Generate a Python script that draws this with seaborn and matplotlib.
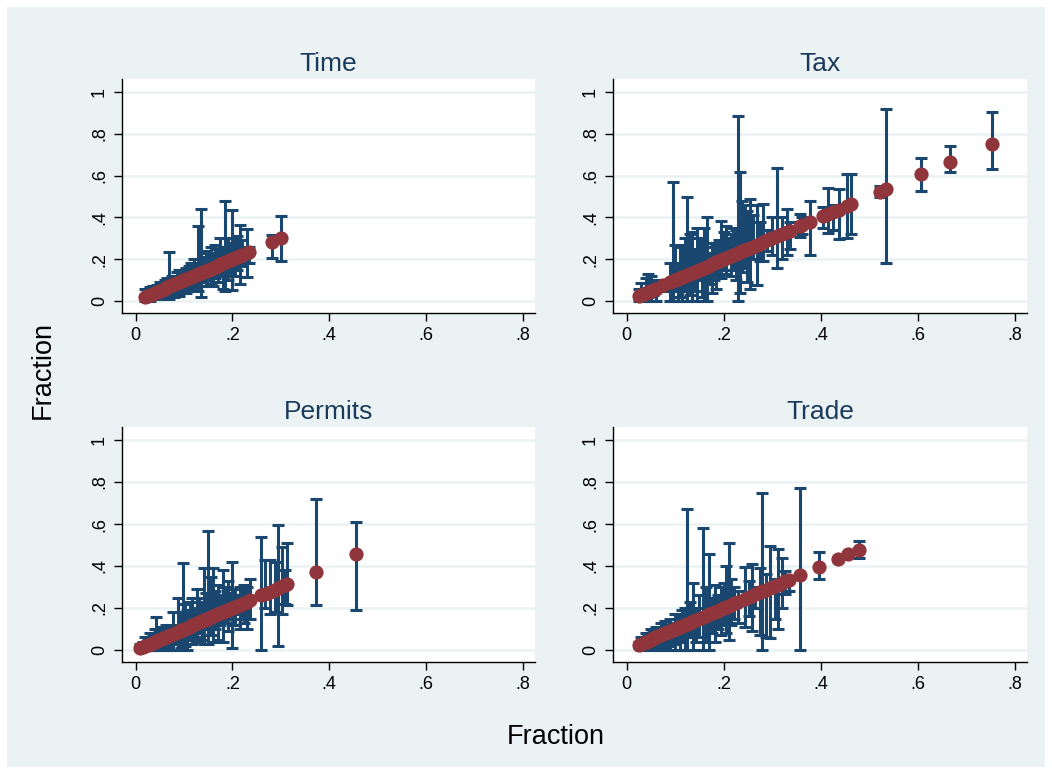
import numpy as np
import pandas as pd
import matplotlib
matplotlib.use("Agg")
import matplotlib.pyplot as plt
import seaborn as sns
from matplotlib.patches import Rectangle

sns.set_style("white")
plt.rcParams['font.family'] = ['Liberation Sans', 'DejaVu Sans']
plt.rcParams['text.color'] = 'black'

# estimate, lower bound, upper bound
time_est = [0.020, 0.025, 0.030, 0.035, 0.040, 0.045, 0.050, 0.055, 0.060, 0.065,
            0.070, 0.075, 0.080, 0.085, 0.090, 0.095, 0.100, 0.105, 0.110, 0.115,
            0.120, 0.125, 0.130, 0.135, 0.140, 0.145, 0.150, 0.155, 0.160, 0.165,
            0.170, 0.175, 0.180, 0.185, 0.190, 0.195, 0.200, 0.205, 0.210, 0.215,
            0.220, 0.230, 0.235, 0.282, 0.300]
time_lo = [0.000, 0.005, 0.000, 0.010, 0.015, 0.010, 0.020, 0.020, 0.010, 0.015,
           0.010, 0.030, 0.020, 0.040, 0.025, 0.050, 0.060, 0.040, 0.070, 0.050,
           0.080, 0.060, 0.050, 0.020, 0.090, 0.070, 0.100, 0.080, 0.070, 0.110,
           0.090, 0.120, 0.060, 0.050, 0.100, 0.130, 0.055, 0.120, 0.150, 0.080,
           0.170, 0.115, 0.180, 0.205, 0.190]
time_hi = [0.060, 0.055, 0.065, 0.070, 0.060, 0.075, 0.090, 0.080, 0.100, 0.110,
           0.235, 0.120, 0.110, 0.140, 0.150, 0.130, 0.150, 0.160, 0.170, 0.180,
           0.200, 0.170, 0.360, 0.440, 0.210, 0.240, 0.230, 0.260, 0.220, 0.270,
           0.250, 0.300, 0.260, 0.480, 0.300, 0.280, 0.435, 0.300, 0.310, 0.365,
           0.290, 0.345, 0.260, 0.315, 0.408]

tax_est = [0.025, 0.030, 0.035, 0.040, 0.045, 0.050, 0.055, 0.060, 0.075, 0.090,
           0.095, 0.100, 0.105, 0.110, 0.115, 0.120, 0.125, 0.130, 0.135, 0.140,
           0.145, 0.150, 0.155, 0.160, 0.165, 0.170, 0.175, 0.180, 0.185, 0.190,
           0.195, 0.200, 0.205, 0.210, 0.215, 0.220, 0.225, 0.230, 0.233, 0.238,
           0.243, 0.248, 0.254, 0.260, 0.268, 0.275, 0.282, 0.290, 0.300, 0.310,
           0.320, 0.330, 0.337, 0.357, 0.362, 0.378, 0.405, 0.415, 0.425, 0.437,
           0.455, 0.462, 0.522, 0.535, 0.607, 0.667, 0.752]
tax_lo = [0.000, 0.000, 0.010, 0.000, 0.020, 0.000, 0.030, 0.000, 0.050, 0.000,
          0.000, 0.050, 0.000, 0.020, 0.000, 0.050, 0.000, 0.030, 0.000, 0.050,
          0.000, 0.100, 0.020, 0.000, 0.000, 0.080, 0.040, 0.100, 0.060, 0.120,
          0.110, 0.150, 0.130, 0.180, 0.120, 0.150, 0.100, 0.000, 0.040, 0.140,
          0.160, 0.090, 0.060, 0.200, 0.075, 0.190, 0.190, 0.240, 0.220, 0.160,
          0.200, 0.220, 0.250, 0.305, 0.320, 0.220, 0.350, 0.325, 0.340, 0.295,
          0.300, 0.320, 0.500, 0.180, 0.525, 0.617, 0.630]
tax_hi = [0.060, 0.085, 0.060, 0.110, 0.130, 0.120, 0.090, 0.100, 0.100, 0.180,
          0.570, 0.270, 0.180, 0.260, 0.270, 0.300, 0.500, 0.320, 0.330, 0.250,
          0.350, 0.300, 0.290, 0.350, 0.400, 0.230, 0.260, 0.280, 0.270, 0.290,
          0.385, 0.330, 0.360, 0.300, 0.320, 0.350, 0.340, 0.885, 0.615, 0.480,
          0.460, 0.430, 0.490, 0.410, 0.460, 0.380, 0.465, 0.340, 0.400, 0.635,
          0.400, 0.440, 0.380, 0.415, 0.400, 0.480, 0.450, 0.540, 0.460, 0.535,
          0.610, 0.610, 0.550, 0.920, 0.685, 0.740, 0.905]

permits_est = [0.010, 0.015, 0.020, 0.025, 0.030, 0.035, 0.040, 0.043, 0.048, 0.053,
               0.058, 0.063, 0.068, 0.073, 0.078, 0.083, 0.088, 0.093, 0.097, 0.102,
               0.107, 0.112, 0.117, 0.122, 0.127, 0.132, 0.137, 0.141, 0.146, 0.150,
               0.155, 0.160, 0.165, 0.170, 0.175, 0.180, 0.185, 0.190, 0.195, 0.200,
               0.205, 0.210, 0.215, 0.220, 0.225, 0.230, 0.237, 0.260, 0.268, 0.278,
               0.288, 0.295, 0.303, 0.308, 0.313, 0.373, 0.455]
permits_lo = [0.000, 0.000, 0.000, 0.000, 0.000, 0.000, 0.000, 0.000, 0.005, 0.000,
              0.010, 0.000, 0.020, 0.000, 0.000, 0.030, 0.000, 0.010, 0.000, 0.020,
              0.000, 0.050, 0.030, 0.060, 0.040, 0.080, 0.050, 0.030, 0.100, 0.030,
              0.070, 0.040, 0.100, 0.050, 0.120, 0.040, 0.130, 0.090, 0.150, 0.010,
              0.120, 0.170, 0.100, 0.150, 0.130, 0.100, 0.150, 0.000, 0.200, 0.170,
              0.180, 0.020, 0.170, 0.220, 0.215, 0.215, 0.190]
permits_hi = [0.030, 0.040, 0.060, 0.050, 0.080, 0.070, 0.100, 0.155, 0.090, 0.110,
              0.090, 0.120, 0.100, 0.110, 0.180, 0.120, 0.250, 0.180, 0.415, 0.220,
              0.190, 0.230, 0.250, 0.200, 0.290, 0.250, 0.230, 0.390, 0.270, 0.565,
              0.350, 0.390, 0.280, 0.310, 0.260, 0.380, 0.300, 0.330, 0.270, 0.420,
              0.290, 0.260, 0.300, 0.290, 0.310, 0.300, 0.340, 0.540, 0.430, 0.430,
              0.420, 0.595, 0.490, 0.380, 0.510, 0.720, 0.610]

trade_est = [0.025, 0.030, 0.035, 0.040, 0.045, 0.050, 0.055, 0.060, 0.065, 0.070,
             0.075, 0.080, 0.085, 0.090, 0.095, 0.100, 0.105, 0.110, 0.115, 0.120,
             0.124, 0.130, 0.137, 0.143, 0.150, 0.158, 0.164, 0.170, 0.176, 0.182,
             0.188, 0.194, 0.200, 0.205, 0.210, 0.216, 0.222, 0.230, 0.245, 0.252,
             0.258, 0.265, 0.275, 0.280, 0.287, 0.295, 0.305, 0.312, 0.320, 0.327,
             0.335, 0.358, 0.397, 0.435, 0.457, 0.478]
trade_lo = [0.010, 0.000, 0.010, 0.000, 0.005, 0.000, 0.010, 0.000, 0.020, 0.000,
            0.010, 0.000, 0.020, 0.000, 0.030, 0.000, 0.040, 0.000, 0.050, 0.000,
            0.000, 0.060, 0.000, 0.040, 0.060, 0.000, 0.040, 0.000, 0.080, 0.040,
            0.100, 0.070, 0.120, 0.080, 0.050, 0.120, 0.150, 0.130, 0.110, 0.160,
            0.090, 0.200, 0.070, 0.000, 0.060, 0.055, 0.150, 0.100, 0.200, 0.265,
            0.280, 0.000, 0.340, 0.425, 0.450, 0.440]
trade_hi = [0.040, 0.060, 0.050, 0.080, 0.070, 0.100, 0.090, 0.110, 0.080, 0.130,
            0.100, 0.140, 0.120, 0.150, 0.130, 0.170, 0.150, 0.160, 0.190, 0.200,
            0.670, 0.230, 0.320, 0.200, 0.260, 0.580, 0.300, 0.455, 0.250, 0.310,
            0.260, 0.300, 0.320, 0.400, 0.510, 0.340, 0.300, 0.280, 0.395, 0.330,
            0.410, 0.300, 0.390, 0.750, 0.360, 0.495, 0.340, 0.480, 0.440, 0.375,
            0.350, 0.770, 0.465, 0.445, 0.465, 0.520]

panel_titles = ["Time", "Tax", "Permits", "Trade"]
panel_data = [(time_est, time_lo, time_hi),
              (tax_est, tax_lo, tax_hi),
              (permits_est, permits_lo, permits_hi),
              (trade_est, trade_lo, trade_hi)]

x_ticks = [0, 0.2, 0.4, 0.6, 0.8]
x_labels = ["0", ".2", ".4", ".6", ".8"]
y_ticks = [0, 0.2, 0.4, 0.6, 0.8, 1.0]
y_labels = ["0", ".2", ".4", ".6", ".8", "1"]

bar_color = "#1a476f"
dot_color = "#90353b"
bg_color = "#eaf2f3"

W, H = 1052, 771
fig = plt.figure(figsize=(W / 100, H / 100), dpi=100, facecolor="white")
fig.patches.append(Rectangle((7 / W, 4 / H), 1 - 14 / W, 1 - 11 / H,
                             transform=fig.transFigure, facecolor=bg_color,
                             edgecolor="none", zorder=-10))

# axes boxes in pixels: left, top, right, bottom
boxes = [(122, 79, 535, 313), (613, 79, 1027, 313),
         (122, 427, 535, 662), (613, 427, 1027, 662)]

for (l, t, r, b), title, (est, lo, hi) in zip(boxes, panel_titles, panel_data):
    ax = fig.add_axes([l / W, 1 - b / H, (r - l) / W, (b - t) / H])
    ax.set_zorder(1)
    ax.set_facecolor("white")
    df = pd.DataFrame({"est": est, "lo": lo, "hi": hi})
    mid = (df["lo"] + df["hi"]) / 2
    half = (df["hi"] - df["lo"]) / 2
    ax.errorbar(df["est"], mid, yerr=half, fmt="none", ecolor=bar_color,
                elinewidth=2.2, capsize=4.5, capthick=2.2, zorder=2)
    sns.scatterplot(data=df, x="est", y="est", ax=ax, color=dot_color, s=105,
                    edgecolor=dot_color, linewidth=0, zorder=3)
    ax.set_xlim(-0.028, 0.825)
    ax.set_ylim(-0.057, 1.062)
    ax.set_xticks(x_ticks)
    ax.set_xticklabels(x_labels)
    ax.set_yticks(y_ticks)
    ax.set_yticklabels(y_labels, rotation=90, va="center")
    ax.tick_params(axis="both", direction="out", length=6, width=1,
                   labelsize=13, colors="black", pad=4, bottom=True, left=True)
    ax.yaxis.grid(True, color=bg_color, linewidth=1.8)
    ax.xaxis.grid(False)
    ax.set_axisbelow(True)
    for side in ["top", "right"]:
        ax.spines[side].set_visible(False)
    for side in ["left", "bottom"]:
        ax.spines[side].set_color("black")
        ax.spines[side].set_linewidth(1)
    ax.set_xlabel("")
    ax.set_ylabel("")
    ax.set_title(title, fontsize=19, color="#1a3a5c", pad=6)

fig.text(0.041, 0.52, "Fraction", rotation=90, fontsize=19.5, va="center", ha="center")
fig.text(0.528, 0.044, "Fraction", fontsize=19.5, va="center", ha="center")

fig.savefig("out.png", dpi=100, facecolor="white")
